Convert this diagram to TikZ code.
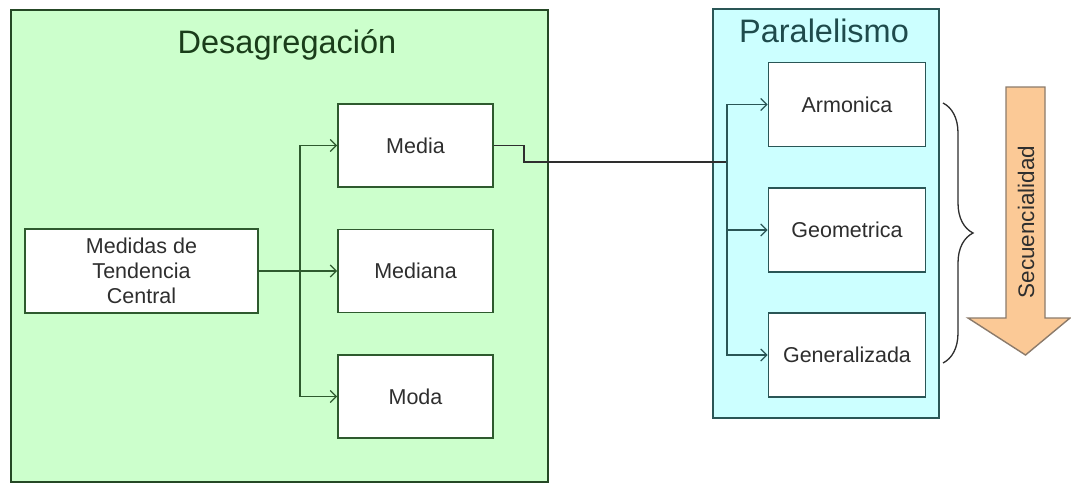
\documentclass[tikz,border=0pt]{standalone}
\usepackage{fontspec}
\setmainfont{Liberation Sans}
\usetikzlibrary{arrows.meta,decorations.pathreplacing}
\definecolor{panelgreen}{HTML}{CCFFCC}
\definecolor{panelcyan}{HTML}{CCFFFF}
\definecolor{greenline}{HTML}{2E5A2E}
\definecolor{tealline}{HTML}{2A5656}
\definecolor{boxtext}{HTML}{2E2E2E}
\definecolor{greentitle}{HTML}{1A3D1A}
\definecolor{tealtitle}{HTML}{1F4B4C}
\definecolor{arrowfill}{HTML}{FBC996}
\definecolor{arrowedge}{HTML}{8C7B6B}
\begin{document}
\begin{tikzpicture}[x=1pt,y=-1pt,
  panel/.style={draw, line width=1.6pt, inner sep=0pt, anchor=north west},
  item/.style={draw, fill=white, line width=1.7pt, inner sep=0pt,
    minimum width=155pt, minimum height=83pt, text=boxtext,
    font=\fontsize{21.5}{25}\selectfont, align=center},
  heading/.style={anchor=base, font=\fontsize{32.5}{38}\selectfont},
  glink/.style={draw=greenline, line width=1.5pt,
    -{Straight Barb[length=6pt,width=12pt,line width=1.3pt]}},
  tlink/.style={draw=tealline, line width=1.5pt,
    -{Straight Barb[length=6pt,width=12pt,line width=1.3pt]}},
  bridge/.style={draw=boxtext, line width=1.5pt}]
\useasboundingbox (0,0) rectangle (1071,482);
\fill[white] (0,0) rectangle (1071,482);

% the two panels
\node[panel, fill=panelgreen, draw=greenline!80!black, minimum width=537pt, minimum height=472pt] (desag) at (10,9) {};
\node[panel, fill=panelcyan, draw=tealline, minimum width=226pt, minimum height=409pt] (paral) at (712,8) {};
\node[heading, text=greentitle] (tdesag) at (287,53) {Desagregación};
\node[heading, text=tealtitle] (tparal) at (824,42) {Paralelismo};

% left group
\node[item, draw=greenline, minimum width=233pt, minimum height=84pt] (medidas) at (141.5,271) {Medidas de\\Tendencia\\Central};
\node[item, draw=greenline] (media) at (415.5,145.5) {Media};
\node[item, draw=greenline] (mediana) at (415.5,271) {Mediana};
\node[item, draw=greenline] (moda) at (415.5,396.5) {Moda};

% right group
\node[item, draw=tealline, minimum width=157pt, minimum height=84pt] (armonica) at (847,104.5) {Armonica};
\node[item, draw=tealline, minimum width=157pt, minimum height=84pt] (geometrica) at (847,230) {Geometrica};
\node[item, draw=tealline, minimum width=157pt, minimum height=84pt] (generalizada) at (847,355) {Generalizada};

% connectors on the left
\coordinate (gsplit) at (300,271);
\draw[glink] (medidas.east) -- (mediana.west);
\draw[glink] (gsplit) |- (media.west);
\draw[glink] (gsplit) |- (moda.west);

% bridge from Media to the parallel branch
\coordinate (psplit) at (727,162);
\draw[bridge] (media.east) -- ++(30,0) |- (psplit);
\draw[tlink] (psplit) |- (armonica.west);
\draw[tlink] (psplit) |- (geometrica.west);
\draw[tlink] (psplit) |- (generalizada.west);

% brace and sequence arrow
\coordinate (btop) at (943,103);
\coordinate (bbot) at (943,363);
\draw[draw=boxtext, line width=1.3pt, decorate, decoration={brace, amplitude=30pt}] (btop) -- (bbot);
\draw[fill=arrowfill, draw=arrowedge, line width=1.4pt, line join=miter]
  (1006,87) -- (1045,87) -- (1045,318) -- (1070,318) -- (1025.5,355) -- (968,318) -- (1006,318) -- cycle;
\node[rotate=90, text=boxtext, font=\fontsize{22.5}{26}\selectfont] (secuencia) at (1026,222) {Secuencialidad};
\end{tikzpicture}
\end{document}
